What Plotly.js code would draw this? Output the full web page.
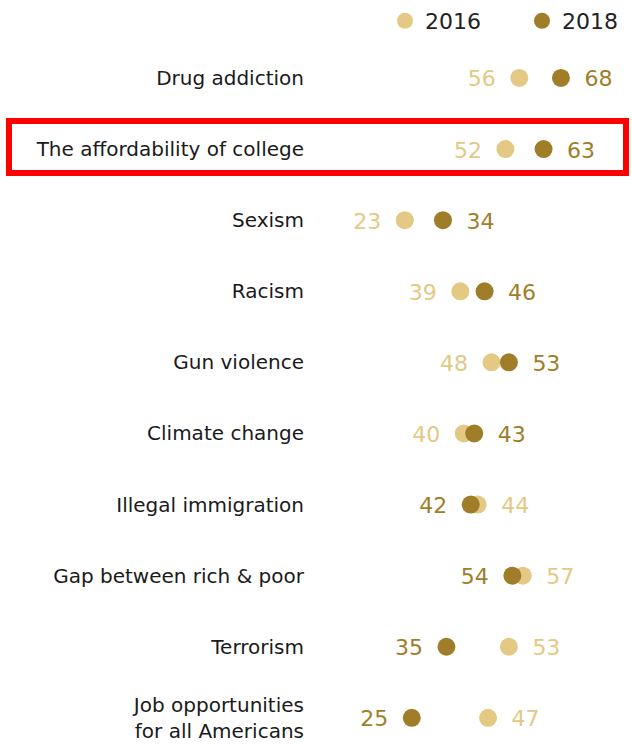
<!DOCTYPE html>
<html>
<head>
<meta charset="utf-8">
<script src="https://cdn.plot.ly/plotly-3.0.1.min.js"></script>
<style>
  html, body { margin: 0; padding: 0; background: #ffffff; }
  #chart { width: 632px; height: 744px; }
</style>
</head>
<body>
<div id="chart"></div>
<script>
// ---- Data ----
var categories = [
  "Drug addiction",
  "The affordability of college",
  "Sexism",
  "Racism",
  "Gun violence",
  "Climate change",
  "Illegal immigration",
  "Gap between rich & poor",
  "Terrorism",
  "Job opportunities<br>for all Americans"
];
var values2016 = [56, 52, 23, 39, 48, 40, 44, 57, 53, 47];
var values2018 = [68, 63, 34, 46, 53, 43, 42, 54, 35, 25];
var seriesNames = ["2016", "2018"];

// ---- Styles ----
var color2016 = "#E3C983";
var color2018 = "#A07D28";
var fontFamily = "DejaVu Sans, Arial, sans-serif";

// label side: smaller value label on the left of its dot, larger on the right
var pos2016 = values2016.map(function (v, i) { return v < values2018[i] ? "middle left" : "middle right"; });
var pos2018 = values2018.map(function (v, i) { return v < values2016[i] ? "middle left" : "middle right"; });

var traces = [
  {
    type: "scatter", mode: "markers", name: seriesNames[0], legend: "legend",
    x: values2016, y: categories,
    marker: { color: color2016, size: 18 },
    hoverinfo: "skip"
  },
  {
    type: "scatter", mode: "markers", name: seriesNames[1], legend: "legend2",
    x: values2018, y: categories,
    marker: { color: color2018, size: 18 },
    hoverinfo: "skip"
  },
  {
    type: "scatter", mode: "markers+text", showlegend: false,
    x: values2016, y: categories, yaxis: "y2",
    text: values2016.map(String), textposition: pos2016,
    textfont: { family: fontFamily, size: 22, color: color2016 },
    marker: { size: 36, opacity: 0 },
    hoverinfo: "skip"
  },
  {
    type: "scatter", mode: "markers+text", showlegend: false,
    x: values2018, y: categories, yaxis: "y2",
    text: values2018.map(String), textposition: pos2018,
    textfont: { family: fontFamily, size: 22, color: color2018 },
    marker: { size: 36, opacity: 0 },
    hoverinfo: "skip"
  }
];

var legendCommon = {
  orientation: "h",
  yref: "container",
  yanchor: "top",
  y: 1.0,
  xanchor: "left",
  font: { family: fontFamily, size: 22, color: "#222222" },
  bgcolor: "rgba(0,0,0,0)",
  borderwidth: 0
};

var layout = {
  width: 632,
  height: 744,
  margin: { l: 315, r: 10, t: 42, b: 10, pad: 0 },
  paper_bgcolor: "#ffffff",
  plot_bgcolor: "#ffffff",
  font: { family: fontFamily, color: "#1a1a1a" },
  showlegend: true,
  legend: Object.assign({}, legendCommon, { x: 0.2280 }),
  legend2: Object.assign({}, legendCommon, { x: 0.6743 }),
  xaxis: {
    visible: false,
    range: [-2.88, 85.6],
    fixedrange: true
  },
  yaxis: {
    type: "category",
    categoryorder: "array",
    categoryarray: categories,
    range: [9.227, -0.506],
    autorange: false,
    showgrid: false,
    zeroline: false,
    showline: false,
    ticks: "",
    ticklabelstandoff: 10,
    tickfont: { family: fontFamily, size: 20, color: "#1a1a1a" },
    fixedrange: true
  },
  yaxis2: {
    type: "category",
    categoryorder: "array",
    categoryarray: categories,
    overlaying: "y",
    range: [9.185, -0.548],
    autorange: false,
    visible: false,
    fixedrange: true
  },
  shapes: [
    {
      type: "rect", xref: "paper", yref: "paper",
      x0: (9 - 315) / 307, x1: (626 - 315) / 307,
      y0: (734 - 173) / 692, y1: (734 - 121) / 692,
      line: { color: "#FF0000", width: 6 },
      fillcolor: "rgba(0,0,0,0)"
    }
  ]
};

Plotly.newPlot("chart", traces, layout, { displayModeBar: false, staticPlot: true });
</script>
</body>
</html>
